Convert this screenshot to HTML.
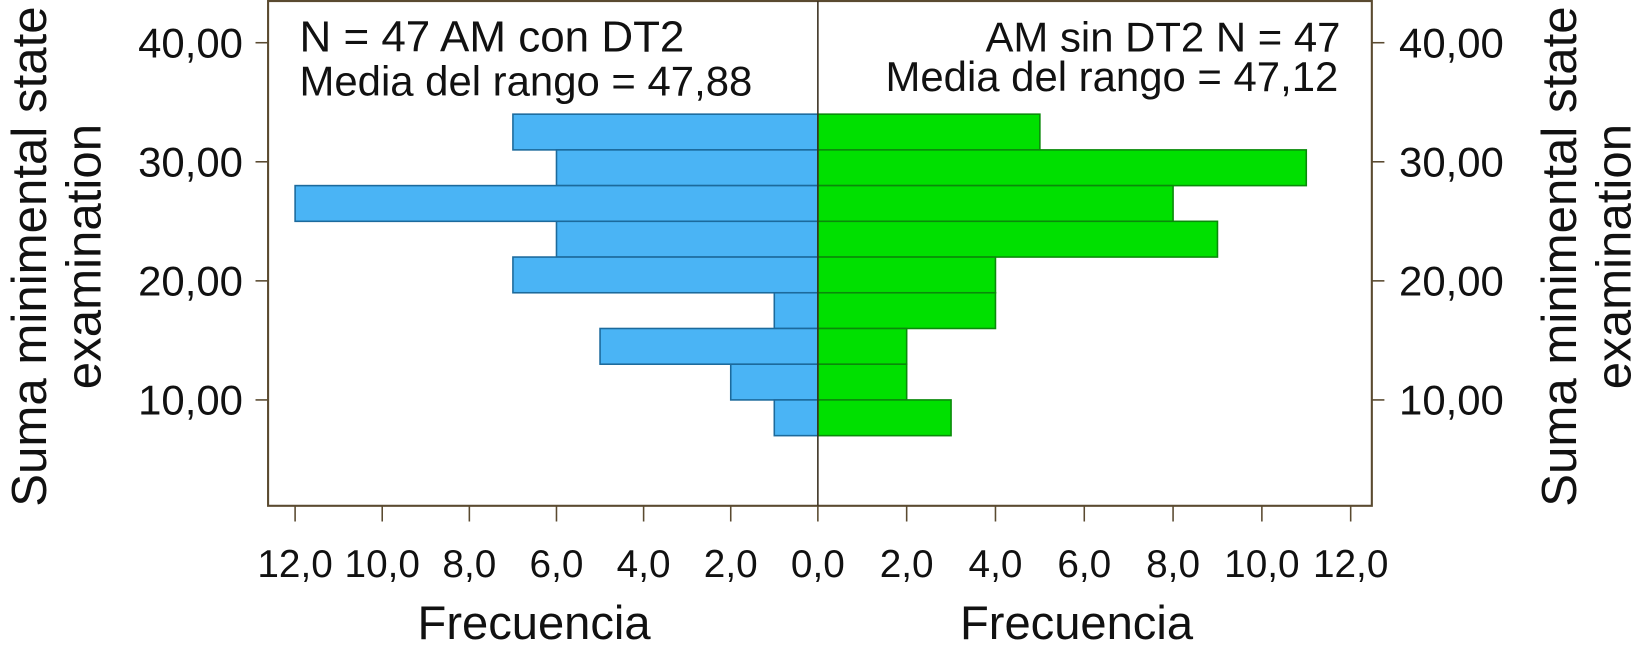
<!DOCTYPE html>
<html><head><meta charset="utf-8"><style>
body{margin:0;background:#fff;}
svg text{font-family:"Liberation Sans",Arial,sans-serif;fill:#111;}
</style></head><body>
<svg width="1642" height="650" xmlns="http://www.w3.org/2000/svg"><g id="c" transform="scale(1.0472)"></g></svg>
<script>
const binStarts=[31,28,25,22,19,16,13,10,7];
const binWidth=3;
const leftCounts=[7,6,12,6,7,1,5,2,1];
const rightCounts=[5,11,8,9,4,4,2,2,3];
const xTicks=[0,2,4,6,8,10,12];
const xTickLabels=["0,0","2,0","4,0","6,0","8,0","10,0","12,0"];
const yTicks=[10,20,30,40];
const yTickLabels=["10,00","20,00","30,00","40,00"];

const NS="http://www.w3.org/2000/svg";
const svg=document.getElementById('c');
function mk(t,a,p){const e=document.createElementNS(NS,t);for(const k in a)e.setAttribute(k,a[k]);(p||svg).appendChild(e);return e;}
const cx=781, fl=256, fr=1310, ft=1, fb=483;
const xl=v=>cx-v*41.6;
const xr=v=>cx+v*42.4;
const y=v=>495.6-v*11.37;

let e=mk('rect',{x:fl,y:ft,width:fr-fl,height:fb-ft,fill:'none',stroke:'#5a4a30','stroke-width':2});



binStarts.forEach((b,i)=>{
  const yt=y(b+binWidth), yb=y(b);
  let r=mk('rect',{x:xl(leftCounts[i]),y:yt,width:cx-xl(leftCounts[i]),height:yb-yt,fill:'#4ab4f5',stroke:'#1c6a9c','stroke-width':1.5});
  
  
  let g=mk('rect',{x:cx,y:yt,width:xr(rightCounts[i])-cx,height:yb-yt,fill:'#00e000',stroke:'#0a8a0a','stroke-width':1.5});
  
  
});
e=mk('line',{x1:cx,y1:ft,x2:cx,y2:fb,stroke:'#3a3020','stroke-width':1.5});



xTicks.forEach((v,i)=>{
  [[xl(v),'left'],[xr(v),'right']].forEach(([x,s])=>{
    if(v===0&&s==='right')return;
    let t=mk('line',{x1:x,y1:fb,x2:x,y2:fb+15,stroke:'#5a4a30','stroke-width':1.5});
    
    
    let l=mk('text',{x:(v===0?cx:x),y:551,'font-size':37,'text-anchor':'middle'});
    l.textContent=xTickLabels[i];
    
    
  });
});
yTicks.forEach((v,i)=>{
  const yy=y(v);
  let t=mk('line',{x1:fl-12,y1:yy,x2:fl,y2:yy,stroke:'#5a4a30','stroke-width':1.5});
  
  
  t=mk('line',{x1:fr,y1:yy,x2:fr+12,y2:yy,stroke:'#5a4a30','stroke-width':1.5});
  
  
  let l=mk('text',{x:232,y:yy+14,'font-size':40,'text-anchor':'end'});
  l.textContent=yTickLabels[i];
  
  
  l=mk('text',{x:1336,y:yy+14,'font-size':40,'text-anchor':'start'});
  l.textContent=yTickLabels[i];
  
  
});
function txt(x,yy,s,anchor,name,size,rot){
  let t=mk('text',{x:x,y:yy,'font-size':size,'text-anchor':anchor});
  if(rot)t.setAttribute('transform','rotate(-90 '+x+' '+yy+')');
  t.setAttribute('xml:space','preserve');
  t.textContent=s;
  
  
}
txt(510,610,'Frecuencia','middle','x-axis-title-left',45);
txt(1028,610,'Frecuencia','middle','x-axis-title-right',45);
txt(44,245,'Suma minimental state','middle','y-axis-title-left',47,true);
txt(96,245,'examination','middle','y-axis-title-left-2',47,true);
txt(1505,245,'Suma minimental state','middle','y-axis-title-right',47,true);
txt(1557,245,'examination','middle','y-axis-title-right-2',47,true);
txt(286,49,'N = 47 AM con DT2','start','left-group-label',42);
txt(286,91,'Media del rango = 47,88','start','left-group-mean',40);
txt(1280,49,'AM sin  DT2 N = 47','end','right-group-label',40);
txt(1278,87,'Media del rango = 47,12','end','right-group-mean',40);
</script>
</body></html>
